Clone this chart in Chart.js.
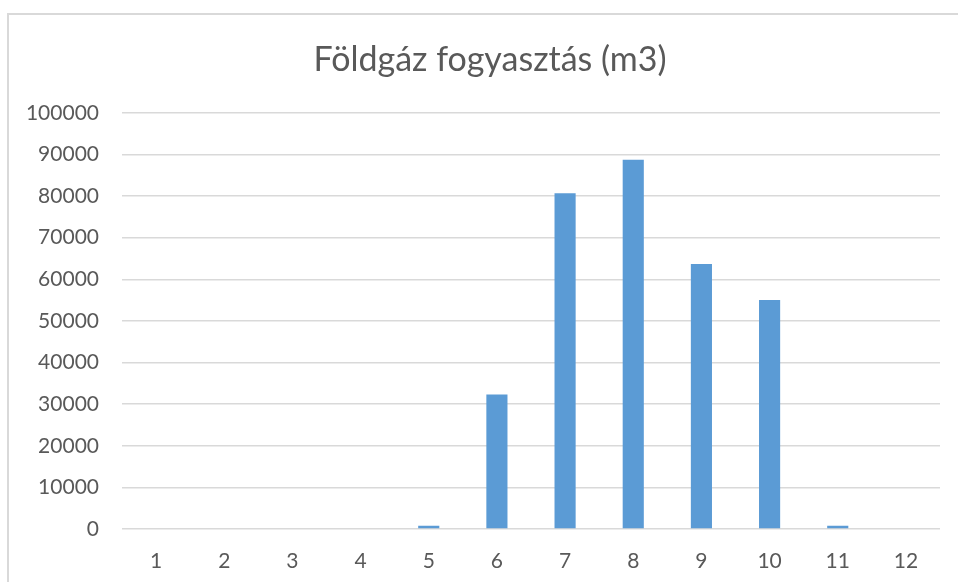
<!DOCTYPE html>
<html>
<head>
<meta charset="utf-8">
<script src="https://cdn.jsdelivr.net/npm/chart.js@4"></script>
<style>
  html, body { margin: 0; padding: 0; background: #fff; overflow: hidden; }
  #wrap { position: relative; width: 958px; height: 582px; }
  #frame { position: absolute; left: 7px; top: 13px; width: 1000px; height: 600px;
           border-left: 2px solid #d9d9d9; border-top: 2px solid #d9d9d9; }
  canvas { position: absolute; left: 0; top: 0; }
</style>
</head>
<body>
<div id="wrap">
  <div id="frame"></div>
  <canvas id="gasChart" width="958" height="582"></canvas>
</div>
<script>
// Data
const months = ['1', '2', '3', '4', '5', '6', '7', '8', '9', '10', '11', '12'];
const consumption = [0, 0, 0, 0, 800, 32300, 80700, 88700, 63700, 55000, 800, 0];
const chartTitle = 'Földgáz fogyasztás (m3)';
const yMax = 100000;
const yStep = 10000;

const textColor = '#595959';
const gridColor = '#d9d9d9';

const ctx = document.getElementById('gasChart').getContext('2d');

// y labels stick out past the left padding; widen the scale box so they are not clipped
const unclipLabels = {
    id: 'unclipLabels',
    beforeDraw(chart) {
        chart.scales.y.left = 0;
    }
};

new Chart(ctx, {
    type: 'bar',
    data: {
        labels: months,
        datasets: [{
            data: consumption,
            backgroundColor: '#5b9bd5',
            borderWidth: 0,
            categoryPercentage: 1,
            barPercentage: 0.31
        }]
    },
    options: {
        responsive: false,
        animation: false,
        // left padding keeps the title centred on the whole frame
        layout: { padding: { top: 0, right: 18, bottom: 0, left: 40 } },
        plugins: {
            legend: { display: false },
            tooltip: { enabled: false },
            title: {
                display: true,
                text: chartTitle,
                color: textColor,
                font: { family: 'Lato', size: 34, weight: 'normal' },
                padding: { top: 40, bottom: 32 }
            }
        },
        scales: {
            x: {
                grid: { display: false, drawTicks: false },
                border: { display: false },
                ticks: {
                    color: textColor,
                    font: { family: 'Lato', size: 21 },
                    padding: 20,
                    maxRotation: 0
                },
                afterFit: (scale) => { scale.height = 53; }
            },
            y: {
                min: 0,
                max: yMax,
                grid: { color: gridColor, lineWidth: 1.5, drawTicks: false },
                border: { display: false },
                ticks: {
                    stepSize: yStep,
                    color: textColor,
                    font: { family: 'Lato', size: 21 },
                    padding: 23,
                    callback: (value) => String(value)
                },
                afterFit: (scale) => { scale.width = 82; }
            }
        }
    },
    plugins: [unclipLabels]
});
</script>
</body>
</html>
